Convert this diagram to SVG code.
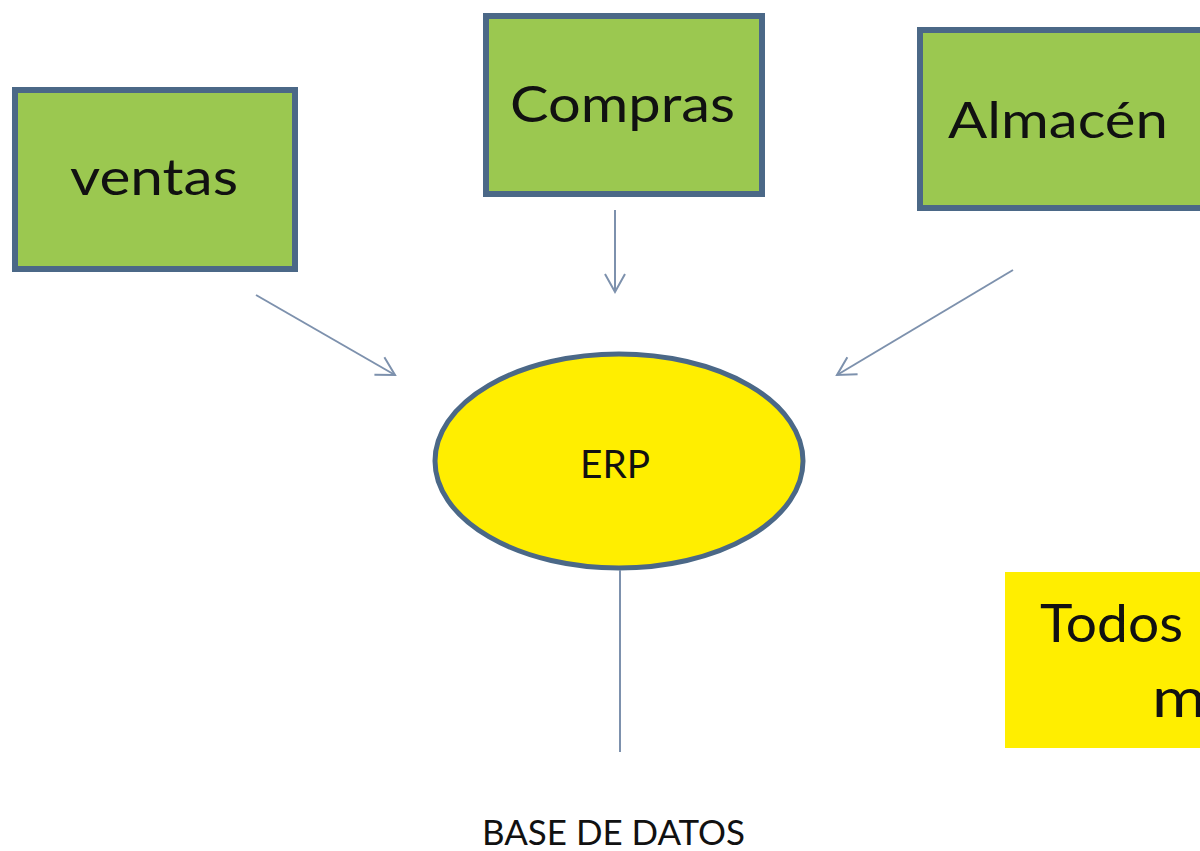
<svg xmlns="http://www.w3.org/2000/svg" width="1200" height="851" viewBox="0 0 1200 851">
<defs>
<style>
.box{fill:#9bc850;stroke:#4b6887;stroke-width:6}
.lbl{font-family:Lato,"Open Sans",sans-serif;fill:#111;}
.conn{stroke:#7d91ad;stroke-width:2;fill:none}
</style>
<marker id="ah" markerWidth="24" markerHeight="24" refX="20" refY="12" orient="auto" markerUnits="userSpaceOnUse">
<path d="M2,2 L20,12 L2,22" fill="none" stroke="#7d91ad" stroke-width="2"/>
</marker>
</defs>
<rect width="1200" height="851" fill="#ffffff"/>
<g id="ventas">
<rect class="box" x="15" y="90" width="280" height="179"/>
<text class="lbl" x="70" y="195" font-size="50" textLength="168" lengthAdjust="spacingAndGlyphs">ventas</text>
</g>
<g id="compras">
<rect class="box" x="486" y="16" width="276" height="178"/>
<text class="lbl" x="510" y="122" font-size="50" textLength="225" lengthAdjust="spacingAndGlyphs">Compras</text>
</g>
<g id="almacen">
<rect class="box" x="920" y="30" width="290" height="178"/>
<text class="lbl" x="948" y="138" font-size="50" textLength="220" lengthAdjust="spacingAndGlyphs">Almacén</text>
</g>
<g id="erp">
<ellipse cx="619" cy="461" rx="184" ry="107" fill="#ffee00" stroke="#4b6887" stroke-width="5"/>
<text class="lbl" x="580" y="478" font-size="38" textLength="70" lengthAdjust="spacingAndGlyphs" fill="#2a2a10">ERP</text>
</g>
<g id="nota">
<rect x="1005" y="572" width="200" height="176" fill="#ffee00"/>
<text class="lbl" x="1040" y="642" font-size="52" textLength="143" lengthAdjust="spacingAndGlyphs">Todos</text>
<text class="lbl" x="1152" y="717" font-size="54" textLength="54" lengthAdjust="spacingAndGlyphs">m</text>
</g>
<g id="basedatos">
<text class="lbl" x="482" y="845" font-size="34" textLength="263" lengthAdjust="spacingAndGlyphs" fill="#333">BASE DE DATOS</text>
</g>
<g id="connectors">
<line class="conn" x1="256" y1="295" x2="395" y2="375" marker-end="url(#ah)"/>
<line class="conn" x1="615" y1="210" x2="615" y2="292" marker-end="url(#ah)"/>
<line class="conn" x1="1013" y1="270" x2="837" y2="375" marker-end="url(#ah)"/>
<line class="conn" x1="620" y1="570" x2="620" y2="752"/>
</g>
</svg>
